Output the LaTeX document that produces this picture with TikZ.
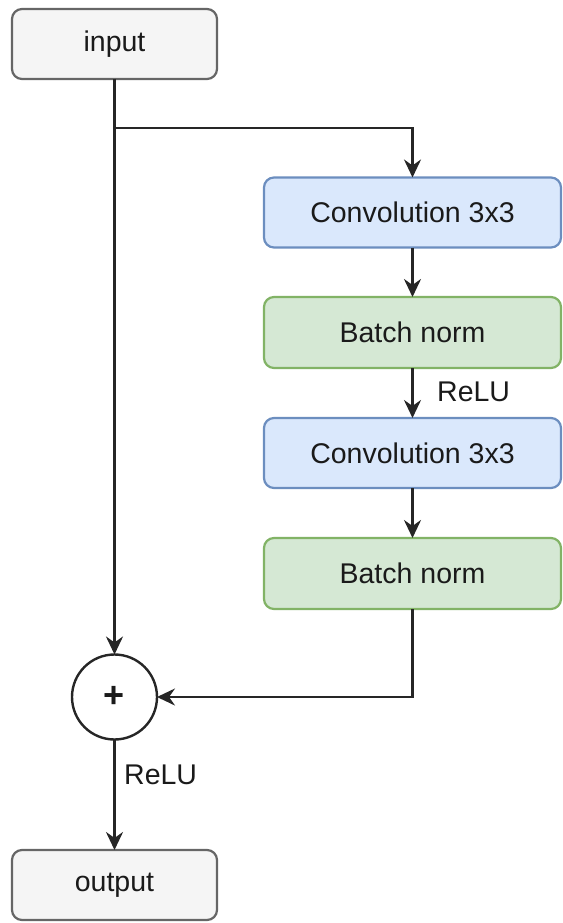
\documentclass[tikz,border=0pt]{standalone}
\usepackage{fontspec}
\setmainfont{Liberation Sans}
\usetikzlibrary{arrows.meta}
\definecolor{grayfill}{HTML}{F5F5F5}
\definecolor{graystroke}{HTML}{666666}
\definecolor{bluefill}{HTML}{DAE8FC}
\definecolor{bluestroke}{HTML}{6C8EBF}
\definecolor{greenfill}{HTML}{D5E8D4}
\definecolor{greenstroke}{HTML}{82B366}
\definecolor{txt}{HTML}{1A1A1A}
\tikzset{
  box/.style={draw, line width=2.2pt, rounded corners=10pt, minimum height=70pt,
    inner sep=0pt, outer sep=0pt, font=\fontsize{28.5}{32}\selectfont, text=txt},
  iobox/.style={box, fill=grayfill, draw=graystroke, minimum width=205pt},
  convbox/.style={box, fill=bluefill, draw=bluestroke, minimum width=297pt},
  bnbox/.style={box, fill=greenfill, draw=greenstroke, minimum width=297pt},
  conn/.style={line width=2.6pt, draw=black!85, -{Stealth[length=18pt,width=17pt,inset=6pt]}},
  lbl/.style={font=\fontsize{28.5}{32}\selectfont, text=txt, inner sep=0pt},
}
\begin{document}
\begin{tikzpicture}[x=1pt,y=-1pt]
\useasboundingbox (0,0) rectangle (562,923);
\node[iobox] (input) at (114.5,44) {input};
\node[convbox] (conv1) at (412.5,212.5) {Convolution 3x3};
\node[bnbox, minimum height=71pt] (bn1) at (412.5,332.5) {Batch norm};
\node[convbox] (conv2) at (412.5,453) {Convolution 3x3};
\node[bnbox, minimum height=71pt] (bn2) at (412.5,573.5) {Batch norm};
\node[circle, draw=black!85, line width=2.4pt, fill=white, minimum size=85pt, inner sep=0pt, outer sep=0pt,
  font=\fontsize{36}{40}\selectfont\bfseries, text=txt] (plus) at (114.5,697) {+};
\node[iobox] (output) at (114.5,885) {output};
\coordinate (branch) at (114.5,128);
\coordinate (corner) at (412.5,697);
\draw[conn] (input) -- (plus);
\draw[conn] (branch) -| (conv1);
\draw[conn] (conv1) -- (bn1);
\draw[conn] (bn1) -- (conv2);
\draw[conn] (conv2) -- (bn2);
\draw[conn] (bn2.south) -- (corner) -- (plus);
\draw[conn] (plus) -- (output);
\node[lbl, anchor=west] (relu1) at (437,392) {ReLU};
\node[lbl, anchor=west] (relu2) at (124,775) {ReLU};
\end{tikzpicture}
\end{document}
